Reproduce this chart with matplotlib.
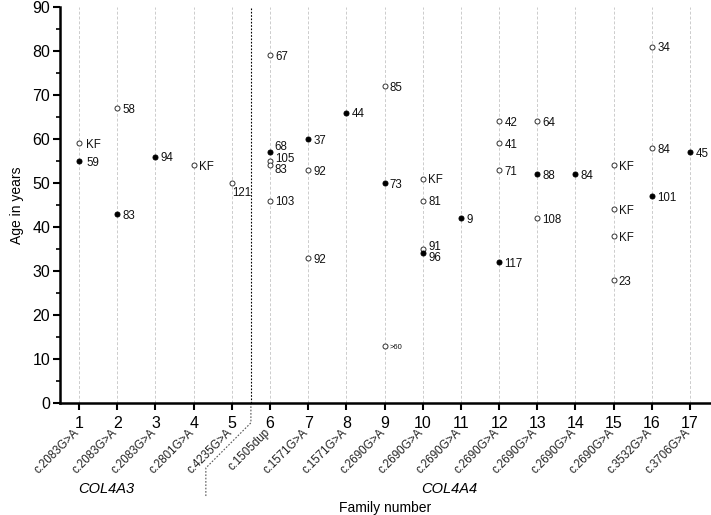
import matplotlib
matplotlib.use("Agg")
import matplotlib.pyplot as plt
from matplotlib.lines import Line2D
import matplotlib.transforms as mtransforms

plt.rcParams['font.family'] = ['Liberation Sans', 'DejaVu Sans']

# ---- data ----
families = [1, 1, 2, 2, 3, 4, 5,
            6, 6, 6, 6, 6,
            7, 7, 7, 8,
            9, 9, 9,
            10, 10, 10, 10, 11,
            12, 12, 12, 12,
            13, 13, 13, 14,
            15, 15, 15, 15,
            16, 16, 16, 17]
ages = [59, 55, 67, 43, 56, 54, 50,
        79, 57, 55, 54, 46,
        60, 53, 33, 66,
        72, 50, 13,
        51, 46, 35, 34, 42,
        64, 59, 53, 32,
        64, 52, 42, 52,
        54, 44, 38, 28,
        81, 58, 47, 57]
filled = [0, 1, 0, 1, 1, 0, 0,
          0, 1, 0, 0, 0,
          1, 0, 0, 1,
          0, 1, 0,
          0, 0, 0, 1, 1,
          0, 0, 0, 1,
          0, 1, 0, 1,
          0, 0, 0, 0,
          0, 0, 1, 1]
point_labels = ["KF", "59", "58", "83", "94", "KF", "121",
                "67", "68", "105", "83", "103",
                "37", "92", "92", "44",
                "85", "73", ">60",
                "KF", "81", "91", "96", "9",
                "42", "41", "71", "117",
                "64", "88", "108", "84",
                "KF", "KF", "KF", "23",
                "34", "84", "101", "45"]
family_numbers = list(range(1, 18))
mutations = ["c.2083G>A", "c.2083G>A", "c.2083G>A", "c.2801G>A", "c.4235G>A",
             "c.1505dup", "c.1571G>A", "c.1571G>A", "c.2690G>A", "c.2690G>A",
             "c.2690G>A", "c.2690G>A", "c.2690G>A", "c.2690G>A", "c.2690G>A",
             "c.3532G>A", "c.3706G>A"]
y_ticks = list(range(0, 91, 10))

# label offsets (points) for special cases
default_off = (3.8, -1.3)
special_off = {("121", 5): (0.3, -7.5), ("68", 6): (3.5, 3.5),
               ("96", 10): (3.8, -3.6), ("91", 10): (3.8, 1.6),
               ("105", 6): (3.5, 1.2), ("83", 6): (3.5, -3.6),
               ("KF", 1): (5.0, -1.3), ("59", 1): (5.0, -1.3)}

fig = plt.figure(figsize=(7.11, 5.15), dpi=100)
ax = fig.add_axes([60 / 711, 112 / 515, 651 / 711, 396 / 515])

ax.set_xlim(0.5, 17.55)
ax.set_ylim(0, 90)

# grid lines
for f in family_numbers:
    ax.axvline(f, color='#cccccc', lw=0.7, ls=(0, (3, 2)), zorder=0)

# separator
ax.axvline(5.5, color='black', lw=0.8, ls=(0, (1.5, 1.5)), zorder=1)
trans = mtransforms.blended_transform_factory(ax.transData, ax.transAxes)
sep = Line2D([5.5, 5.5, 4.32, 4.32], [0, -0.05, -0.164, -0.237], transform=trans,
             color='#555555', lw=0.8, ls=(0, (1.5, 1.5)), clip_on=False)
ax.add_line(sep)

for f, a, fl, lab in zip(families, ages, filled, point_labels):
    ax.plot(f, a, 'o', ms=3.6, mfc='black' if fl else 'white',
            mec='black' if fl else '#333333', mew=0.7, zorder=3)
    off = special_off.get((lab, f), default_off)
    fs = 5.5 if lab == ">60" else 8.3
    ax.annotate(lab, (f, a), xytext=off, textcoords='offset points',
                ha='left', va='center', fontsize=fs, color='#111111', zorder=4)

# spines & ticks
for s in ['top', 'right']:
    ax.spines[s].set_visible(False)
ax.spines['left'].set_linewidth(1.8)
ax.spines['bottom'].set_linewidth(1.8)
ax.set_yticks(y_ticks)
ax.set_yticks(range(5, 90, 10), minor=True)
ax.set_xticks(family_numbers)
ax.set_xticklabels([str(f) for f in family_numbers])
ax.tick_params(axis='both', which='major', direction='out', length=5, width=1.5,
               labelsize=11.5, pad=2)
ax.tick_params(axis='x', which='major', pad=4)
ax.tick_params(axis='y', which='minor', direction='out', length=3, width=1.2)
ax.tick_params(axis='x', which='minor', bottom=False)

for f, m in zip(family_numbers, mutations):
    ax.text(f - 0.04, -0.07, m, transform=trans, rotation=45, rotation_mode='anchor',
            ha='right', va='center', fontsize=8.3, color='#222222')

ax.text(1.7, -0.218, "COL4A3", transform=trans, ha='center', va='center',
        fontsize=10.5, style='italic')
ax.text(10.7, -0.218, "COL4A4", transform=trans, ha='center', va='center',
        fontsize=10.5, style='italic')
ax.text(0.5, -0.265, "Family number", transform=ax.transAxes, ha='center',
        va='center', fontsize=10)
ax.set_ylabel("Age in years", fontsize=10, labelpad=6)

fig.savefig("out.png", dpi=100)
